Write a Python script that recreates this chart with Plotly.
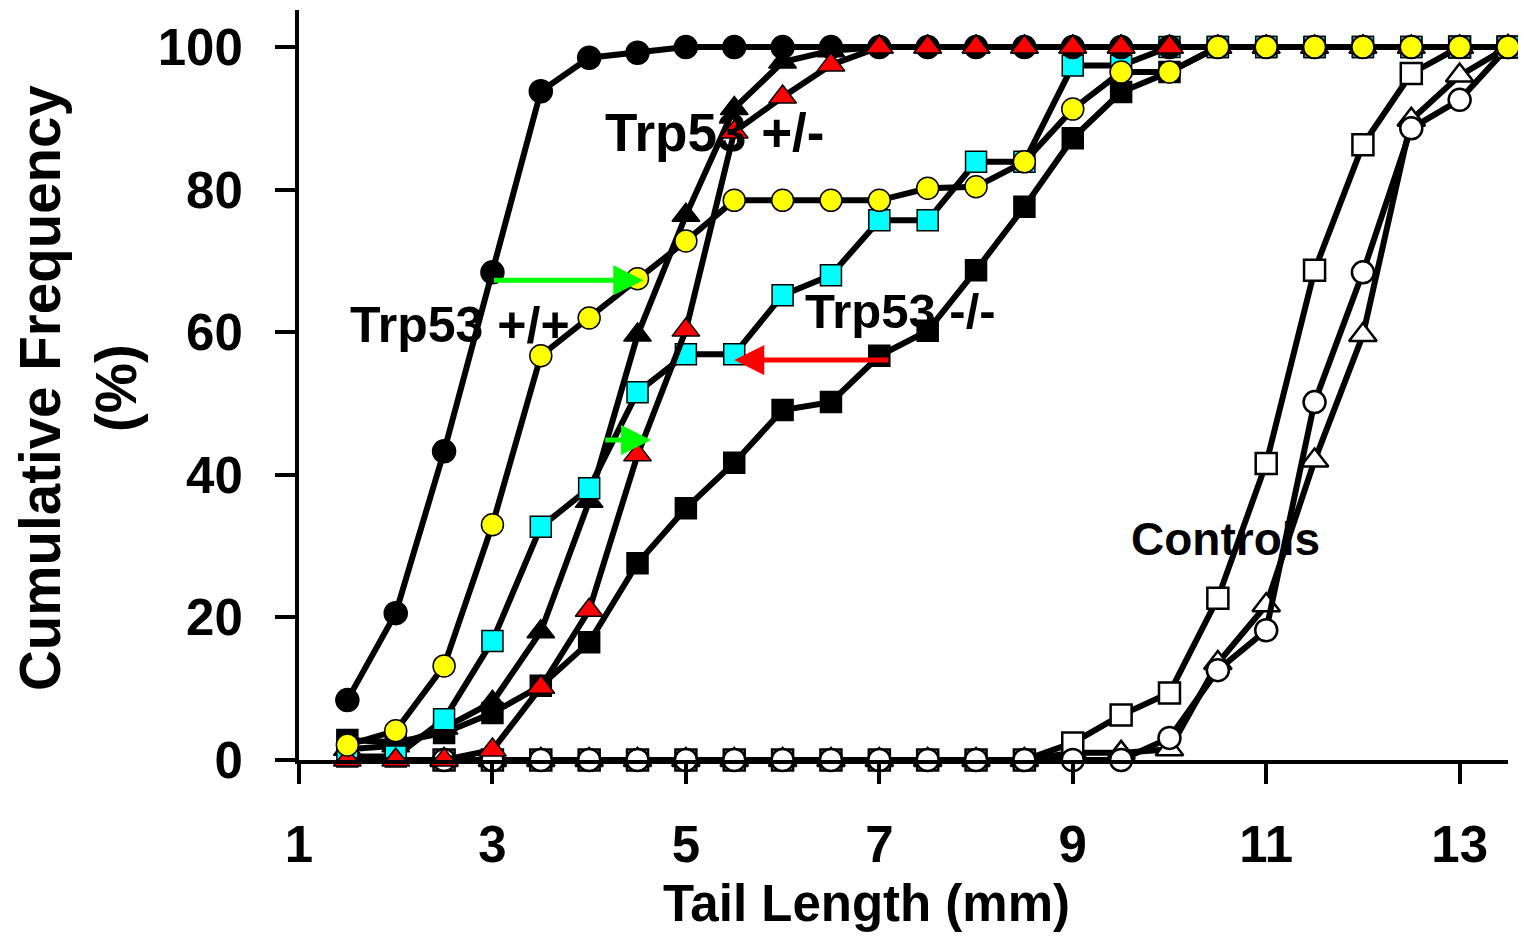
import plotly.graph_objects as go

# ---------------- data ----------------
tail_x = [1.5, 2, 2.5, 3, 3.5, 4, 4.5, 5, 5.5, 6, 6.5, 7, 7.5, 8, 8.5, 9, 9.5, 10,
          10.5, 11, 11.5, 12, 12.5, 13, 13.5]
ctrl_x = tail_x[2:]

black_circle = [8.4, 20.6, 43.3, 68.4, 93.8, 98.5, 99.2, 100, 100, 100, 100, 100, 100,
                100, 100, 100, 100, 100, 100, 100, 100, 100, 100, 100, 100]
yellow_circle = [2.1, 4.1, 13.2, 33.0, 56.7, 62.0, 67.5, 72.8, 78.5, 78.5, 78.5, 78.5,
                 80.2, 80.4, 83.9, 91.3, 96.5, 96.5, 100, 100, 100, 100, 100, 100, 100]
cyan_square = [0.5, 0.5, 5.7, 16.7, 32.7, 38.1, 51.6, 56.9, 56.9, 65.2, 68.0, 75.7, 75.7,
               83.9, 83.9, 97.4, 97.4, 100, 100, 100, 100, 100, 100, 100, 100]
black_triangle = [1.5, 2.0, 4.5, 8.1, 18.0, 36.3, 59.6, 76.4, 91.4, 97.9, 99.5, 100, 100,
                  100, 100, 100, 100, 100, 100, 100, 100, 100, 100, 100, 100]
red_triangle = [0, 0, 0, 1.4, 10.2, 21.0, 42.8, 60.3, 88.1, 93.0, 97.5, 100, 100,
                100, 100, 100, 100, 100, 100, 100, 100, 100, 100, 100, 100]
black_square = [2.8, 2.5, 3.8, 6.6, 10.4, 16.5, 27.6, 35.3, 41.7, 49.1, 50.2, 56.7, 60.2,
                68.7, 77.6, 87.2, 93.7, 96.5, 100, 100, 100, 100, 100, 100, 100]

ctrl_triangle = [0, 0, 0, 0, 0, 0, 0, 0, 0, 0, 0, 0, 0,
                 1.0, 1.0, 1.5, 13.6, 21.7, 42.0, 59.6, 89.8, 96.0, 100]
ctrl_square = [0, 0, 0, 0, 0, 0, 0, 0, 0, 0, 0, 0, 0,
               2.4, 6.3, 9.4, 22.7, 41.6, 68.7, 86.3, 96.3, 100, 100]
ctrl_circle = [0, 0, 0, 0, 0, 0, 0, 0, 0, 0, 0, 0, 0,
               0, 0, 3.1, 12.6, 18.2, 50.2, 68.4, 88.6, 92.6, 100]

x_ticks = [1, 3, 5, 7, 9, 11, 13]
y_ticks = [0, 20, 40, 60, 80, 100]

# arrows: (start x, end x, y, colour)
arrows = [
    (3.0, 4.56, 67.3, "#00FF00"),
    (4.15, 4.64, 44.9, "#00FF00"),
    (7.11, 5.50, 56.1, "#FF0000"),
]

labels = [
    ("Trp53 +/-", 5.30, 88.0, 53),
    ("Trp53 +/+", 2.66, 61.0, 50),
    ("Trp53 -/-", 7.22, 63.0, 49),
    ("Controls", 10.58, 31.0, 46),
]

FONT = "Liberation Sans, Arial, sans-serif"
LW = 6

fig = go.Figure()


def add(xs, ys, symbol, fill, size, lw=1.5):
    fig.add_trace(go.Scatter(
        x=xs, y=ys, mode="lines+markers", cliponaxis=False, showlegend=False,
        line=dict(color="black", width=LW),
        marker=dict(symbol=symbol, size=size, color=fill,
                    line=dict(color="black", width=lw)),
    ))


# controls (bottom)
add(ctrl_x, ctrl_triangle, "triangle-up", "white", 24, lw=2.5)
add(ctrl_x, ctrl_square, "square", "white", 21, lw=2.5)
add(ctrl_x, ctrl_circle, "circle", "white", 22, lw=2.5)
# mutants
add(tail_x, black_square, "square", "black", 21)
add(tail_x, black_triangle, "triangle-up", "black", 24)
add(tail_x, cyan_square, "square", "#00FFFF", 21)
add(tail_x, black_circle, "circle", "black", 23)
add(tail_x, red_triangle, "triangle-up", "#FF0000", 24)
add(tail_x, yellow_circle, "circle", "#FFFF00", 22)

annotations = []
for x0, x1, yv, col in arrows:
    annotations.append(dict(
        x=x1, y=yv, ax=x0, ay=yv, xref="x", yref="y", axref="x", ayref="y",
        text="", showarrow=True, arrowhead=2, arrowsize=1.2, arrowwidth=5,
        arrowcolor=col, standoff=0, startstandoff=0,
    ))

for txt, lx, ly, fs in labels:
    annotations.append(dict(
        x=lx, y=ly, xref="x", yref="y", text=txt, showarrow=False,
        xanchor="center", yanchor="middle",
        font=dict(family=FONT, size=fs, color="black", weight="bold"),
    ))

# page body adds an 8px offset; compensate so plot area lands at the target pixels
OFF = 8
W, H = 1526 - OFF, 939 - OFF
L, R, T, B = 299 - OFF, 18, 10 - OFF, 179
PW, PH = W - L - R, H - T - B


def px(p):
    return (p - OFF - L) / PW


def py(p):
    return (H - B - (p - OFF)) / PH


annotations.append(dict(
    x=px(40), y=py(388), xref="paper", yref="paper", text="Cumulative Frequency",
    textangle=-90, showarrow=False, xanchor="center", yanchor="middle",
    font=dict(family=FONT, size=56.5, color="black", weight="bold"),
))
annotations.append(dict(
    x=px(116), y=py(388), xref="paper", yref="paper", text="(%)",
    textangle=-90, showarrow=False, xanchor="center", yanchor="middle",
    font=dict(family=FONT, size=56.5, color="black", weight="bold"),
))
annotations.append(dict(
    x=px(866), y=py(903), xref="paper", yref="paper", text="Tail Length (mm)",
    showarrow=False, xanchor="center", yanchor="middle",
    font=dict(family=FONT, size=51, color="black", weight="bold"),
))

fig.update_layout(
    width=W, height=H,
    margin=dict(l=L, r=R, t=T, b=B, pad=0),
    paper_bgcolor="white", plot_bgcolor="white",
    annotations=annotations,
    xaxis=dict(
        range=[1, 13.5], tickvals=x_ticks, ticktext=[str(v) for v in x_ticks],
        showgrid=False, zeroline=False, showline=True, linecolor="black", linewidth=4,
        ticks="outside", ticklen=20, tickwidth=4, tickcolor="black",
        ticklabelstandoff=17,
        tickfont=dict(family=FONT, size=51, color="black", weight="bold"),
    ),
    yaxis=dict(
        range=[0, 105.2], tickvals=y_ticks, ticktext=[str(v) for v in y_ticks],
        showgrid=False, zeroline=False, showline=True, linecolor="black", linewidth=4,
        ticks="outside", ticklen=20, tickwidth=4, tickcolor="black",
        ticklabelstandoff=22,
        tickfont=dict(family=FONT, size=51, color="black", weight="bold"),
    ),
)

fig.write_html("out.html")
